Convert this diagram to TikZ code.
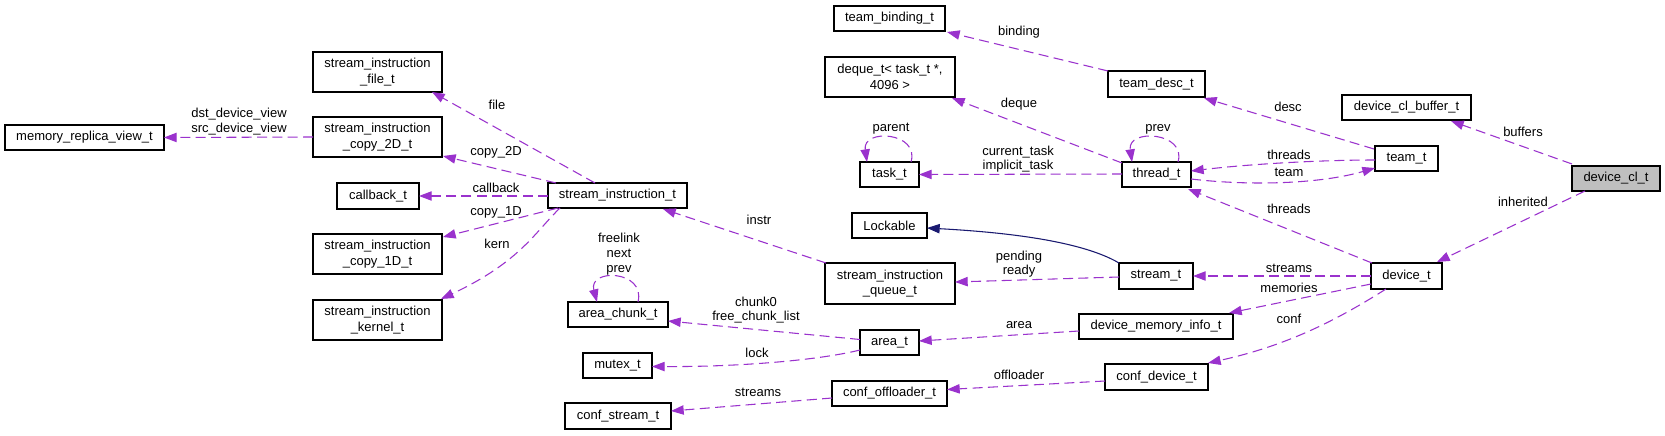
\documentclass[tikz,border=0pt]{standalone}
\usepackage{fontspec}
\setmainfont{Liberation Sans}
\usetikzlibrary{arrows.meta,calc}
\definecolor{usep}{HTML}{9A32CD}
\definecolor{inh}{HTML}{191970}
\definecolor{dclfill}{HTML}{BFBFBF}
\tikzset{
  box/.style={draw=black, line width=0.9pt, fill=white, inner sep=0pt, outer sep=0pt,
    align=center, font=\fontsize{9.75pt}{11.5pt}\selectfont},
  use/.style={draw=usep, line width=0.8pt, dash pattern=on 7.5pt off 4pt,
    -{Triangle[length=9.5pt,width=7pt,fill=usep]}},
  inherit/.style={draw=inh, line width=0.8pt, -{Triangle[length=9.5pt,width=7pt,fill=inh]}},
  lbl/.style={font=\fontsize{9.75pt}{11pt}\selectfont, align=center, inner sep=0pt, text=black},
}
\newcommand\bxn[7][]{\node[box,#1, minimum width={(#5-#3)*0.75pt}, minimum height={(#6-#4)*0.75pt}] (#2) at ({(#3+#5)/2},{(#4+#6)/2}) {#7};}
\begin{document}
\begin{tikzpicture}[x=0.75pt,y=-0.75pt]
\useasboundingbox[fill=white] (0,0) rectangle (1665,435);
% nodes
\bxn{mrv}{5}{125}{164}{150}{memory\_replica\_view\_t}
\bxn{sif}{313}{52}{442}{92}{stream\_instruction\\\_file\_t}
\bxn{sic2}{313}{117}{442}{157}{stream\_instruction\\\_copy\_2D\_t}
\bxn{cb}{337}{183}{419}{209}{callback\_t}
\bxn{sic1}{313}{234}{442}{274}{stream\_instruction\\\_copy\_1D\_t}
\bxn{sik}{313}{300}{442}{340}{stream\_instruction\\\_kernel\_t}
\bxn{si}{548}{183}{687}{208}{stream\_instruction\_t}
\bxn{acn}{568}{302}{668}{327}{area\_chunk\_t}
\bxn{mtx}{583}{353}{652}{378}{mutex\_t}
\bxn{cst}{565}{403}{671}{429}{conf\_stream\_t}
\bxn{tbd}{834}{6}{945}{31}{team\_binding\_t}
\bxn{dq}{825}{57}{955}{97}{deque\_t< task\_t *,\\4096 >}
\bxn{tsk}{860}{162}{919}{187}{task\_t}
\bxn{lck}{852}{213}{927}{238}{Lockable}
\bxn{siq}{825}{263}{955}{304}{stream\_instruction\\\_queue\_t}
\bxn{ar}{860}{330}{919}{355}{area\_t}
\bxn{cof}{832}{381}{947}{406}{conf\_offloader\_t}
\bxn{tdesc}{1108}{71}{1205}{97}{team\_desc\_t}
\bxn{thr}{1122}{162}{1191}{187}{thread\_t}
\bxn{st}{1119}{263}{1193}{289}{stream\_t}
\bxn{dmi}{1079}{314}{1233}{339}{device\_memory\_info\_t}
\bxn{cdev}{1105}{364}{1208}{390}{conf\_device\_t}
\bxn{dcb}{1342}{95}{1471}{120}{device\_cl\_buffer\_t}
\bxn{team}{1375}{146}{1438}{171}{team\_t}
\bxn{dev}{1371}{263}{1442}{289}{device\_t}
\bxn[fill=dclfill]{dcl}{1572}{166}{1660}{191}{device\_cl\_t}
% edges
\draw[use] (sic2.west) -- (mrv.east) node[lbl] at (239,121.5) {dst\_device\_view\\src\_device\_view};
\draw[use] ($(si.north west)+(47,0)$) -- ($(sif.south east)+(-10,0)$) node[lbl] at (497,105) {file};
\draw[use] ($(si.north west)+(8,0)$) -- ($(sic2.south east)+(1,-1)$) node[lbl] at (496,152) {copy\_2D};
\draw[use] ($(si.west)+(0,0.5)$) -- (cb.east) node[lbl] at (496,188) {callback};
\draw[use] ($(si.south west)+(10,0)$) -- ($(sic1.north east)+(1,3)$) node[lbl] at (496,212.5) {copy\_1D};
\draw[use] ($(si.south west)+(12,0)$) .. controls (535,232) and (520,262) .. ($(sik.north east)+(-1,-1)$) node[lbl] at (497,244) {kern};
\draw[use] ($(siq.north west)+(1,0)$) -- ($(si.south east)+(-24,1)$) node[lbl] at (759,220) {instr};
\draw[use] (tdesc.north west) -- ($(tbd.south east)+(2,1)$) node[lbl] at (1019,32) {binding};
\draw[use] ($(thr.north west)+(0,1)$) -- ($(dq.south east)+(-3,1)$) node[lbl] at (1019,104) {deque};
\draw[use] ($(thr.west)+(0,-0.5)$) -- (tsk.east) node[lbl] at (1018,159) {current\_task\\implicit\_task};
\draw[use] ($(tsk.north east)+(-8,0)$) .. controls +(9,-30) and +(-5,-34) .. ($(tsk.north west)+(7,0)$) node[lbl] at (891,129) {parent};
\draw[use] ($(thr.north east)+(-13,0)$) .. controls +(9,-30) and +(-5,-34) .. ($(thr.north west)+(10,0)$) node[lbl] at (1158,129) {prev};
\draw[use] ($(team.north west)+(-1,3)$) -- ($(tdesc.south east)+(-1,1)$) node[lbl] at (1288,107) {desc};
\draw[use] ($(team.west)+(0,1.5)$) .. controls (1320,160) and (1250,164) .. ($(thr.east)+(0,-3.5)$) node[lbl] at (1289,155) {threads};
\draw[use] ($(thr.east)+(0,4.5)$) .. controls (1250,186) and (1320,184) .. ($(team.south west)+(0,-3)$) node[lbl] at (1289,172) {team};
\draw[use] ($(dcl.north west)+(0,-2)$) -- ($(dcb.south east)+(-20,1)$) node[lbl] at (1523,132) {buffers};
\draw[use] ($(dcl.south west)+(13,0)$) -- ($(dev.north east)+(-5,-1)$) node[lbl] at (1523,202) {inherited};
\draw[use] ($(dev.north west)+(1,0)$) -- ($(thr.south east)+(-3,2)$) node[lbl] at (1289,209) {threads};
\draw[use] (dev.west) -- (st.east) node[lbl] at (1289,268) {streams};
\draw[use] ($(dev.south west)+(0,-5)$) -- ($(dmi.north east)+(-4,-1)$) node[lbl] at (1289,288) {memories};
\draw[use] ($(dev.south west)+(15,0)$) .. controls (1340,318) and (1290,345) .. ($(cdev.north east)+(0,-1)$) node[lbl] at (1289,319) {conf};
\draw[inherit] (st.north west) .. controls (1080,240) and (1000,232) .. ($(lck.east)+(0,2.5)$);
\draw[use] ($(st.west)+(0,1)$) -- ($(siq.east)+(0,-1.5)$) node[lbl] at (1019,264) {pending\\ready};
\draw[use] ($(dmi.west)+(0,4.5)$) -- ($(ar.east)+(0,-1.5)$) node[lbl] at (1019,325) {area};
\draw[use] ($(ar.west)+(0,-3)$) -- ($(acn.east)+(0,6.5)$) node[lbl] at (756,310) {chunk0\\free\_chunk\_list};
\draw[use] ($(ar.west)+(0,7.5)$) .. controls (820,360) and (740,367) .. ($(mtx.east)+(0,1)$) node[lbl] at (757,353) {lock};
\draw[use] ($(acn.north east)+(-30,0)$) .. controls +(8,-32) and +(-9,-34) .. ($(acn.north west)+(29,0)$) node[lbl] at (619,254) {freelink\\next\\prev};
\draw[use] ($(cdev.west)+(0,4)$) -- ($(cof.east)+(0,-4)$) node[lbl] at (1019,375) {offloader};
\draw[use] ($(cof.west)+(0,4.5)$) -- ($(cst.east)+(0,-5)$) node[lbl] at (758,392) {streams};
\end{tikzpicture}
\end{document}
